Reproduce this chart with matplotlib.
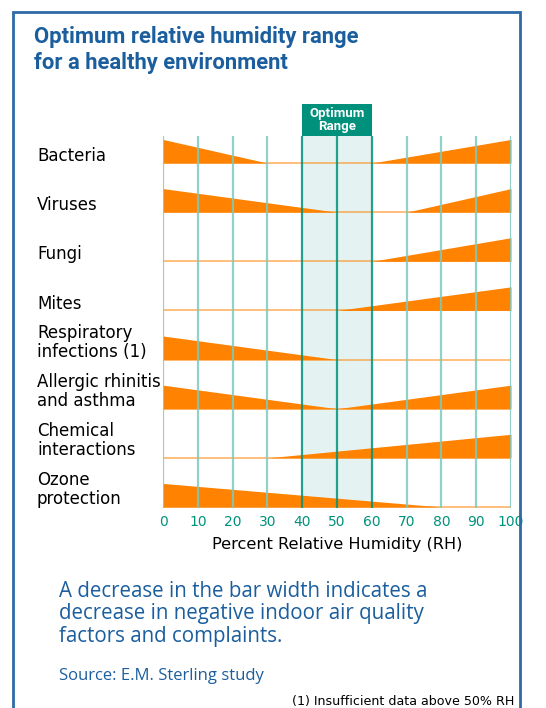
import matplotlib
matplotlib.use("Agg")
import matplotlib.pyplot as plt
from matplotlib.patches import Rectangle
from matplotlib.transforms import blended_transform_factory

# Categories (top to bottom) and the humidity profile of each wedge
categories = ["Bacteria", "Viruses", "Fungi", "Mites",
              "Respiratory\ninfections (1)", "Allergic rhinitis\nand asthma",
              "Chemical\ninteractions", "Ozone\nprotection"]
rh_points = [
    [0, 30, 60, 100],
    [0, 50, 70, 100],
    [0, 60, 100],
    [0, 50, 100],
    [0, 50, 100],
    [0, 50, 100],
    [0, 30, 100],
    [0, 80, 100],
]
effect = [
    [1, 0, 0, 1],
    [1, 0, 0, 1],
    [0, 0, 1],
    [0, 0, 1],
    [1, 0, 0],
    [1, 0, 1],
    [0, 0, 1],
    [1, 0, 0],
]
rh_ticks = [0, 10, 20, 30, 40, 50, 60, 70, 80, 90, 100]
optimum = (40, 60)

W, H = 546, 708
blue = "#1b5e9e"
teal = "#00917c"
orange = "#ff8200"
plt.rcParams["font.family"] = ["DejaVu Sans"]

fig = plt.figure(figsize=(W / 100, H / 100), dpi=100)

# frame
fig.add_artist(Rectangle((13 / W, -0.05), 507 / W, 1.05 - 12 / H, transform=fig.transFigure,
                         fill=False, edgecolor="#2d6aa6", linewidth=2))

for y, line in [(37, "Optimum relative humidity range"), (63, "for a healthy environment")]:
    fig.text(34 / W, 1 - y / H, line, fontsize=15.8, fontweight="bold", fontstretch="condensed",
             color=blue, va="center", family=["Roboto", "DejaVu Sans"])

ax = fig.add_axes([163 / W, 1 - 508 / H, 348 / W, 372 / H])
ax.set_xlim(0, 100)
ax.set_ylim(-7.02, 0.55)
h = 0.48

ax.axvspan(*optimum, color="#e4f3f1", zorder=0, lw=0)
for i, (xs, vs) in enumerate(zip(rh_points, effect)):
    base = -i
    ax.fill_between(xs, base, [base + h * v for v in vs], color=orange, lw=0, zorder=1)
    ax.plot([0, 100], [base, base], color=orange, lw=1.2, alpha=0.6, zorder=1.5)

grid_cols = [teal if optimum[0] <= t <= optimum[1] else "#7fc9bd" for t in rh_ticks]
ax.vlines(rh_ticks, -7.02, 0.55, colors=grid_cols, lw=1.6, alpha=0.85, zorder=2)

for s in ax.spines.values():
    s.set_visible(False)
ax.set_yticks([])
ax.set_xticks(rh_ticks)
ax.tick_params(axis="x", length=0, pad=5, labelsize=10, labelcolor=teal)
ax.set_xlabel("Percent Relative Humidity (RH)", fontsize=11.6, labelpad=6)

# optimum header box
bt = blended_transform_factory(ax.transData, ax.transAxes)
ax.add_patch(Rectangle((optimum[0], 1), optimum[1] - optimum[0], 32 / 372, transform=bt,
                       color=teal, clip_on=False, lw=0))
ax.text(sum(optimum) / 2, 1 + 16 / 372, "Optimum\nRange", transform=bt, ha="center", va="center",
        color="white", fontsize=9.5, fontweight="bold", fontstretch="condensed", linespacing=1.0,
        family=["Roboto", "DejaVu Sans"])

# category labels
lt = blended_transform_factory(fig.transFigure, ax.transData)
for i, name in enumerate(categories):
    off = 0.35 if "\n" in name else 0.14
    ax.text(37 / W, -i + off, name, transform=lt, ha="left", va="center", fontsize=12,
            linespacing=1.05)

fig.text(59 / W, 1 - 614 / H,
         "A decrease in the bar width indicates a\ndecrease in negative indoor air quality\nfactors and complaints.",
         fontsize=14.8, color=blue, va="center", linespacing=1.1, family=["Open Sans", "DejaVu Sans"])
fig.text(59 / W, 1 - 676 / H, "Source: E.M. Sterling study", fontsize=12, color=blue,
         va="center", family=["Open Sans", "DejaVu Sans"])
fig.text(514 / W, 1 - 701 / H, "(1) Insufficient data above 50% RH", fontsize=9.1, color="black",
         ha="right", va="center")

fig.savefig("out.png", dpi=100)
